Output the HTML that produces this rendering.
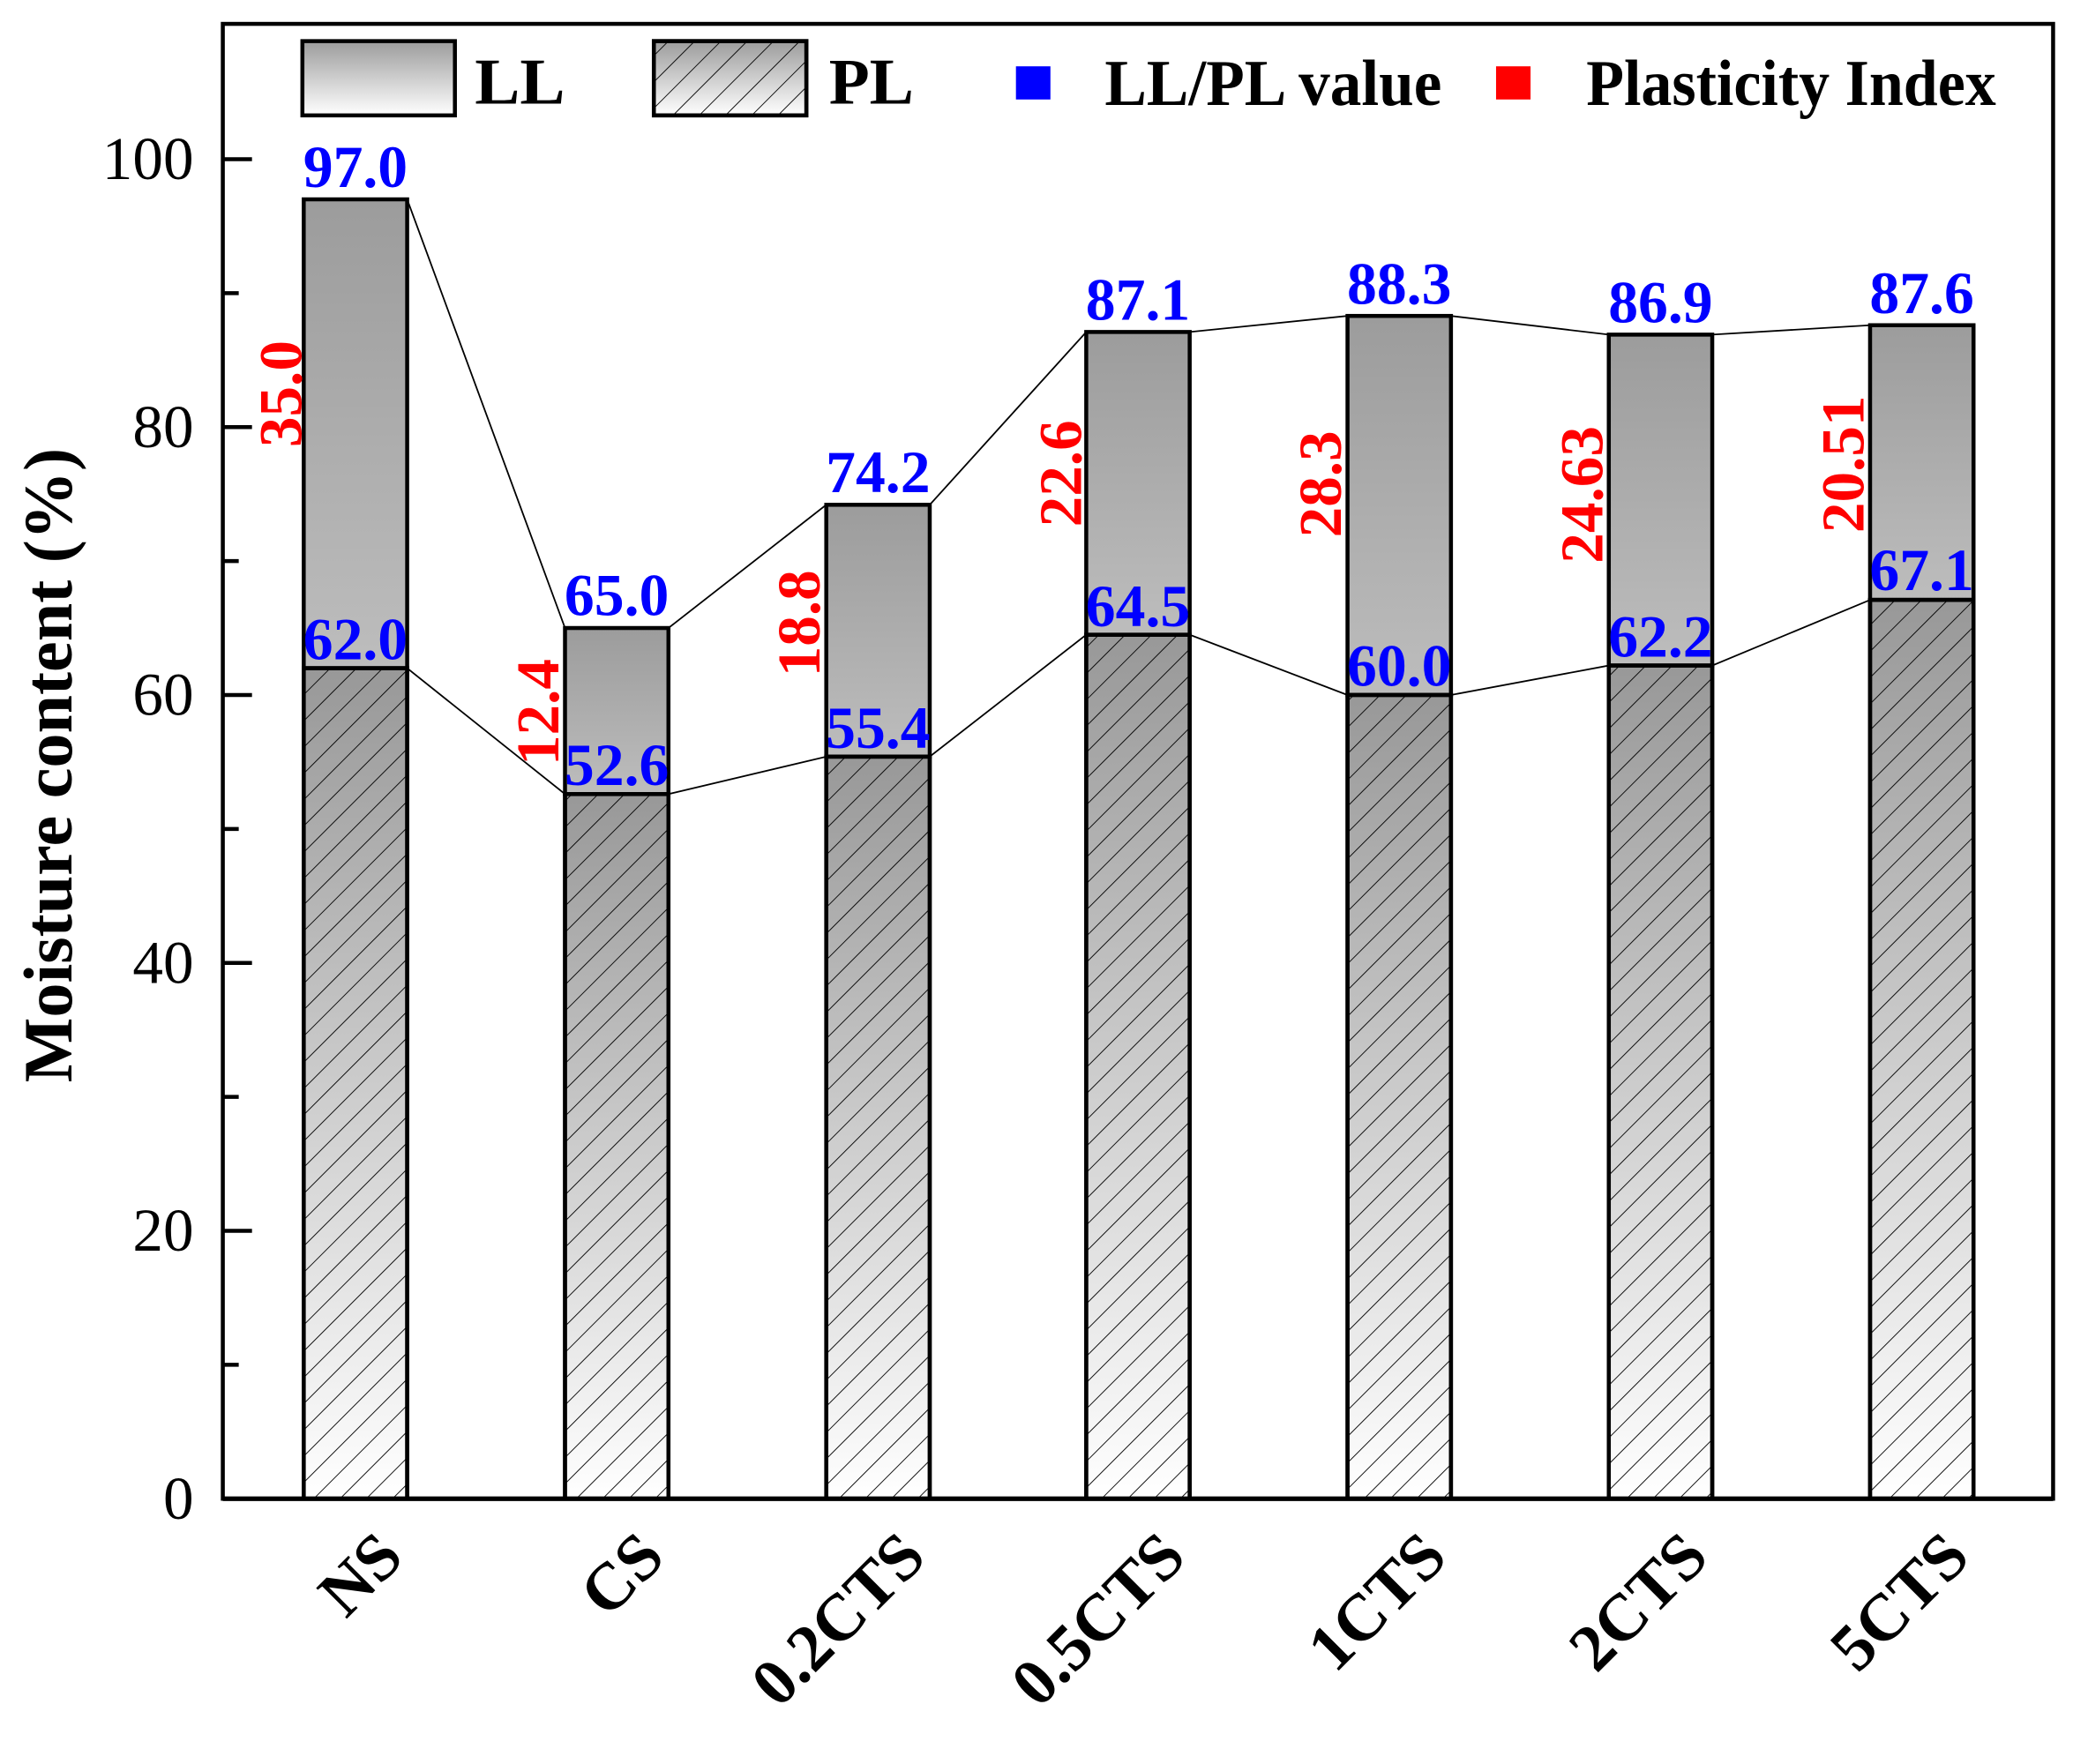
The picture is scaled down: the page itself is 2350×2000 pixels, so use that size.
<!DOCTYPE html>
<html><head><meta charset="utf-8"><style>html,body{margin:0;padding:0;background:#fff}svg{display:block}</style></head>
<body>
<svg width="2350" height="2000" viewBox="0 0 1563 1330" preserveAspectRatio="none" xmlns="http://www.w3.org/2000/svg" font-family="'Liberation Serif', serif">
<defs>
<linearGradient id="gLL" x1="0" y1="0" x2="0" y2="1"><stop offset="0" stop-color="#9c9c9c"/><stop offset="1" stop-color="#bdbdbd"/></linearGradient>
<linearGradient id="gPL" x1="0" y1="0" x2="0" y2="1"><stop offset="0" stop-color="#989898"/><stop offset="1" stop-color="#ffffff"/></linearGradient>
<linearGradient id="gLegLL" x1="0" y1="0" x2="0" y2="1"><stop offset="0" stop-color="#9c9c9c"/><stop offset="1" stop-color="#ffffff"/></linearGradient>
<pattern id="hatch" width="14" height="14" patternUnits="userSpaceOnUse" patternTransform="rotate(45)">
<line x1="0" y1="0" x2="0" y2="14" stroke="#000" stroke-width="1.2"/></pattern>
</defs>
<rect x="0" y="0" width="1563" height="1330" fill="#fff"/>

<g stroke="#000" stroke-width="3">
<rect x="229" y="150.3" width="78" height="353.5" fill="url(#gLL)"/>
<rect x="229" y="503.8" width="78" height="626.2" fill="url(#gPL)"/><rect x="229" y="503.8" width="78" height="626.2" fill="url(#hatch)"/>
<rect x="426" y="473.5" width="78" height="125.2" fill="url(#gLL)"/>
<rect x="426" y="598.7" width="78" height="531.3" fill="url(#gPL)"/><rect x="426" y="598.7" width="78" height="531.3" fill="url(#hatch)"/>
<rect x="623" y="380.6" width="78" height="189.9" fill="url(#gLL)"/>
<rect x="623" y="570.5" width="78" height="559.5" fill="url(#gPL)"/><rect x="623" y="570.5" width="78" height="559.5" fill="url(#hatch)"/>
<rect x="819" y="250.3" width="78" height="228.3" fill="url(#gLL)"/>
<rect x="819" y="478.6" width="78" height="651.4" fill="url(#gPL)"/><rect x="819" y="478.6" width="78" height="651.4" fill="url(#hatch)"/>
<rect x="1016" y="238.2" width="78" height="285.8" fill="url(#gLL)"/>
<rect x="1016" y="524" width="78" height="606" fill="url(#gPL)"/><rect x="1016" y="524" width="78" height="606" fill="url(#hatch)"/>
<rect x="1213" y="252.3" width="78" height="249.5" fill="url(#gLL)"/>
<rect x="1213" y="501.8" width="78" height="628.2" fill="url(#gPL)"/><rect x="1213" y="501.8" width="78" height="628.2" fill="url(#hatch)"/>
<rect x="1410" y="245.2" width="78" height="207.1" fill="url(#gLL)"/>
<rect x="1410" y="452.3" width="78" height="677.7" fill="url(#gPL)"/><rect x="1410" y="452.3" width="78" height="677.7" fill="url(#hatch)"/>
</g>

<g stroke="#000" stroke-width="1.2" fill="none">
<polyline points="307,150.3 426,473.5 504,473.5 623,380.6 701,380.6 819,250.3 897,250.3 1016,238.2 1094,238.2 1213,252.3 1291,252.3 1410,245.2"/>
<polyline points="307,503.8 426,598.7 504,598.7 623,570.5 701,570.5 819,478.6 897,478.6 1016,524 1094,524 1213,501.8 1291,501.8 1410,452.3"/>
</g>

<rect x="168" y="18" width="1380" height="1112" fill="none" stroke="#000" stroke-width="3"/>
<line x1="168" y1="1130" x2="1548" y2="1130" stroke="#000" stroke-width="3.5"/>
<g stroke="#000" stroke-width="3">
<line x1="168" y1="1130" x2="190" y2="1130"/><line x1="168" y1="928" x2="190" y2="928"/><line x1="168" y1="726" x2="190" y2="726"/><line x1="168" y1="524" x2="190" y2="524"/><line x1="168" y1="322" x2="190" y2="322"/><line x1="168" y1="120" x2="190" y2="120"/>
<line x1="168" y1="1029" x2="180" y2="1029"/><line x1="168" y1="827" x2="180" y2="827"/><line x1="168" y1="625" x2="180" y2="625"/><line x1="168" y1="423" x2="180" y2="423"/><line x1="168" y1="221" x2="180" y2="221"/>
</g>
<g font-size="46" text-anchor="end" fill="#000">
<text x="146" y="1145">0</text><text x="146" y="943">20</text><text x="146" y="741">40</text><text x="146" y="539">60</text><text x="146" y="337">80</text><text x="146" y="135">100</text>
</g>
<text transform="translate(54,577) rotate(-90)" text-anchor="middle" font-size="52" font-weight="bold">Moisture content (%)</text>

<g font-size="50" font-weight="bold" text-anchor="end">
<text transform="translate(306,1176) rotate(-45)">NS</text>
<text transform="translate(503,1176) rotate(-45)">CS</text>
<text transform="translate(700,1176) rotate(-45)">0.2CTS</text>
<text transform="translate(896,1176) rotate(-45)">0.5CTS</text>
<text transform="translate(1093,1176) rotate(-45)">1CTS</text>
<text transform="translate(1290,1176) rotate(-45)">2CTS</text>
<text transform="translate(1487,1176) rotate(-45)">5CTS</text>
</g>

<g font-size="45" font-weight="bold" fill="#0000ff" text-anchor="middle">
<text x="268" y="141">97.0</text><text x="268" y="497">62.0</text>
<text x="465" y="464">65.0</text><text x="465" y="592">52.6</text>
<text x="662" y="371">74.2</text><text x="662" y="564">55.4</text>
<text x="858" y="241">87.1</text><text x="858" y="472">64.5</text>
<text x="1055" y="229">88.3</text><text x="1055" y="517">60.0</text>
<text x="1252" y="243">86.9</text><text x="1252" y="495">62.2</text>
<text x="1449" y="236">87.6</text><text x="1449" y="445">67.1</text>
</g>
<g font-size="46" font-weight="bold" fill="#ff0000" text-anchor="middle">
<text transform="translate(227,297) rotate(-90)">35.0</text>
<text transform="translate(421,537) rotate(-90)">12.4</text>
<text transform="translate(618,470) rotate(-90)">18.8</text>
<text transform="translate(815,357) rotate(-90)">22.6</text>
<text transform="translate(1011,365) rotate(-90)">28.3</text>
<text transform="translate(1208,373) rotate(-90)">24.63</text>
<text transform="translate(1405,350) rotate(-90)">20.51</text>
</g>

<rect x="228" y="31" width="115" height="56" fill="url(#gLegLL)" stroke="#000" stroke-width="3"/>
<rect x="493" y="31" width="115" height="56" fill="url(#gLegLL)" stroke="#000" stroke-width="3"/>
<rect x="493" y="31" width="115" height="56" fill="url(#hatch)" stroke="#000" stroke-width="3"/>
<g font-size="49" font-weight="bold" fill="#000">
<text x="358" y="78" textLength="68" lengthAdjust="spacingAndGlyphs">LL</text>
<text x="625" y="78" textLength="64" lengthAdjust="spacingAndGlyphs">PL</text>
<text x="833" y="79" textLength="254" lengthAdjust="spacingAndGlyphs">LL/PL value</text>
<text x="1196" y="79" textLength="309" lengthAdjust="spacingAndGlyphs">Plasticity Index</text>
</g>
<rect x="766" y="50" width="26" height="25" fill="#0000ff"/>
<rect x="1128" y="50" width="26" height="25" fill="#ff0000"/>
</svg>
</body></html>
